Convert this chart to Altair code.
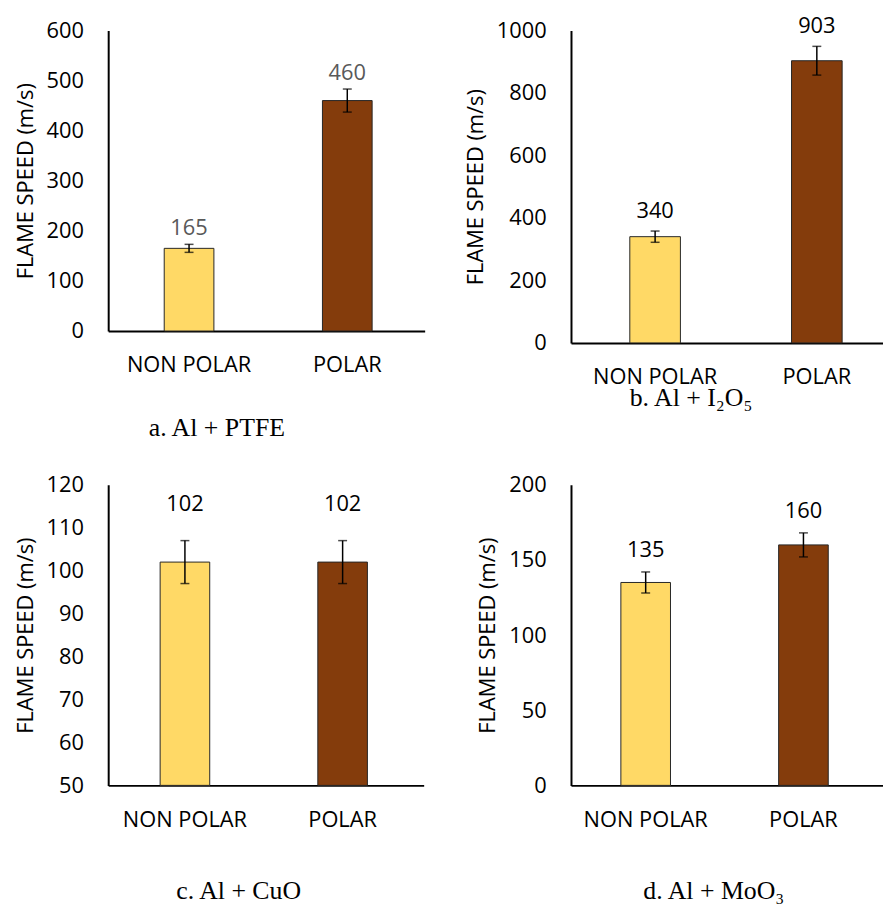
import altair as alt
import pandas as pd

FONT = "Open Sans"
SERIF = "Liberation Serif"

categories = ["NON POLAR", "POLAR"]
bar_colors = ["#FFD966", "#843C0C"]
y_title = "FLAME SPEED (m/s)"

captions = ["a. Al + PTFE", "b. Al + I\u2082O\u2085", "c. Al + CuO", "d. Al + MoO\u2083"]

speed_a = [165, 460]
err_a = [8, 23]
speed_b = [340, 903]
err_b = [18, 46]
speed_c = [102, 102]
err_c = [5, 5]
speed_d = [135, 160]
err_d = [7, 8]

ticks_a = [0, 100, 200, 300, 400, 500, 600]
ticks_b = [0, 200, 400, 600, 800, 1000]
ticks_c = [50, 60, 70, 80, 90, 100, 110, 120]
ticks_d = [0, 50, 100, 150, 200]


def panel(speeds, errs, ticks, caption, width, height, pad_inner, pad_outer,
          band_align, label_dy, label_color, cap_x, cap_y):
    df = pd.DataFrame({
        "cat": categories,
        "v": speeds,
        "lo": [s - e for s, e in zip(speeds, errs)],
        "hi": [s + e for s, e in zip(speeds, errs)],
    })
    base = alt.Chart(df)
    xscale = alt.Scale(paddingInner=pad_inner, paddingOuter=pad_outer, align=band_align)
    xaxis = alt.Axis(title=None, labelAngle=0, labelFont=FONT, labelFontSize=22,
                     labelColor="black", labelPadding=24, ticks=False, tickSize=0,
                     domainColor="black", domainWidth=2)
    x = alt.X("cat:N", sort=categories, scale=xscale, axis=xaxis)
    yscale = alt.Scale(domain=[ticks[0], ticks[-1]], nice=False, zero=False)
    yaxis = alt.Axis(values=ticks, grid=False, ticks=False, tickSize=0, labelPadding=25,
                     labelFont=FONT, labelFontSize=22, labelColor="black", format="d",
                     titleFont=FONT, titleFontSize=22, titleFontWeight="normal",
                     titleColor="black", titlePadding=9, domainColor="black", domainWidth=2)

    def Y(f):
        return alt.Y(f, scale=yscale, axis=yaxis, title=y_title)

    bars = base.mark_bar(stroke="#262626", strokeWidth=1).encode(
        x=x, y=Y("v:Q"), y2=alt.datum(ticks[0]),
        color=alt.Color("cat:N", scale=alt.Scale(domain=categories, range=bar_colors), legend=None),
    )
    rule = base.mark_rule(color="black", strokeWidth=1.5).encode(x=x, y=Y("lo:Q"), y2="hi:Q")
    cap_lo = base.mark_tick(color="black", thickness=1.5, size=9).encode(x=x, y=Y("lo:Q"))
    cap_hi = base.mark_tick(color="black", thickness=1.5, size=9).encode(x=x, y=Y("hi:Q"))
    labels = base.mark_text(dy=label_dy, font=FONT, fontSize=22, color=label_color).encode(
        x=x, y=Y("hi:Q"), text=alt.Text("v:Q", format="d"))
    cap = alt.Chart(pd.DataFrame({"t": [caption]})).mark_text(
        font=SERIF, fontSize=26, color="black", align="center", baseline="alphabetic"
    ).encode(x=alt.value(cap_x), y=alt.value(cap_y), text="t:N")
    return alt.layer(bars, rule, cap_lo, cap_hi, labels, cap).properties(width=width, height=height)


pa = panel(speed_a, err_a, ticks_a, captions[0], 319, 303, 0.686, 0.343, 0.516, -16, "#595959", 109.5, 409)
pb = panel(speed_b, err_b, ticks_b, captions[1], 314, 315, 0.687, 0.3066, 0.593, -20, "black", 121, 379)
pc = panel(speed_c, err_c, ticks_c, captions[2], 318, 303, 0.6855, 0.343, 0.48, -37, "black", 131.5, 418)
pd_ = panel(speed_d, err_d, ticks_d, captions[3], 314, 303, 0.6855, 0.330, 0.479, -22, "black", 144, 418)

chart = alt.concat(
    pa, pb, pc, pd_, columns=2,
    spacing={"row": 143, "column": 147.5}, bounds="flush", align="all",
).properties(
    padding={"left": 6, "top": 4, "right": 0, "bottom": 0},
    background="white",
).configure_view(stroke=None)

chart.save("out.html", embed_options={"renderer": "svg", "actions": False})
